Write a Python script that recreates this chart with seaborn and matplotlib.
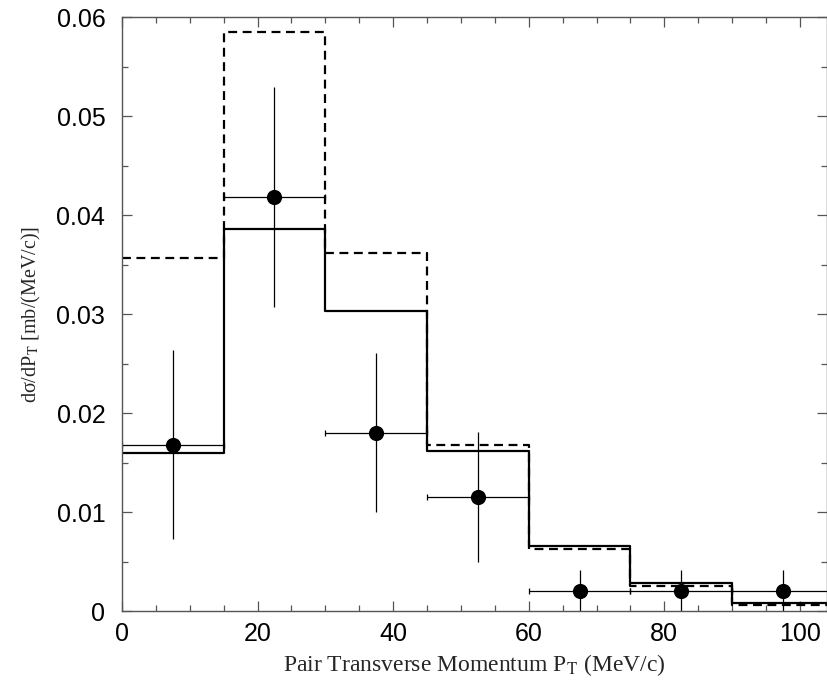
import numpy as np
import pandas as pd
import matplotlib
matplotlib.use("Agg")
import matplotlib.pyplot as plt
import seaborn as sns
from matplotlib.ticker import MultipleLocator

bin_edges = [0, 15, 30, 45, 60, 75, 90, 105]
bin_centers = [7.5, 22.5, 37.5, 52.5, 67.5, 82.5, 97.5]
solid_model = [0.0160, 0.0386, 0.0303, 0.0162, 0.0066, 0.0028, 0.0008]
dashed_model = [0.0357, 0.0585, 0.0362, 0.0168, 0.0063, 0.0025, 0.0006]
data_y = [0.0168, 0.0418, 0.0180, 0.0115, 0.0020, 0.0020, 0.0020]
data_err_up = [0.0096, 0.0111, 0.0081, 0.0066, 0.0021, 0.0021, 0.0021]
data_err_dn = [0.0095, 0.0111, 0.0080, 0.0065, 0.0020, 0.0020, 0.0020]
x_half_width = [7.5] * 7

sns.set_style("ticks")
plt.rcParams['font.family'] = ['Liberation Sans', 'DejaVu Sans']
plt.rcParams['mathtext.fontset'] = 'stix'

fig = plt.figure(figsize=(8.28, 6.84), dpi=100)
ax = fig.add_axes([0.1473, 0.1067, 0.8515, 0.8683])

df = pd.DataFrame({"pt": bin_centers, "solid": solid_model, "dashed": dashed_model,
                   "y": data_y})

sns.histplot(data=df, x="pt", weights="dashed", bins=bin_edges, element="step",
             fill=False, color="black", linewidth=1.6, linestyle=(0, (4, 2.5)), ax=ax)
sns.histplot(data=df, x="pt", weights="solid", bins=bin_edges, element="step",
             fill=False, color="black", linewidth=1.6, ax=ax)

ax.errorbar(bin_centers, data_y, xerr=x_half_width, fmt="none", ecolor="black",
            elinewidth=0.9, capsize=2.5, capthick=0.9)
ax.errorbar(bin_centers, data_y, yerr=[data_err_dn, data_err_up], fmt="none",
            ecolor="black", elinewidth=0.9, capsize=0)
sns.scatterplot(data=df, x="pt", y="y", color="black", s=120, edgecolor="black",
                linewidth=0, zorder=5, ax=ax)

ax.set_xlim(0, 104)
ax.set_ylim(0, 0.06)
ax.xaxis.set_major_locator(MultipleLocator(20))
ax.xaxis.set_minor_locator(MultipleLocator(5))
ax.yaxis.set_major_locator(MultipleLocator(0.01))
ax.yaxis.set_minor_locator(MultipleLocator(0.005))
ax.set_yticks([0, 0.01, 0.02, 0.03, 0.04, 0.05, 0.06])
ax.set_yticklabels(["0", "0.01", "0.02", "0.03", "0.04", "0.05", "0.06"])

ax.tick_params(which="both", direction="in", top=True, right=True, colors="#555555",
               labelcolor="black", labelsize=18)
ax.tick_params(which="major", length=7, width=0.9)
ax.tick_params(which="minor", length=4, width=0.9)
ax.tick_params(axis="x", pad=8)
ax.tick_params(axis="y", pad=12)
for s in ax.spines.values():
    s.set_visible(True)
    s.set_color("#555555")
    s.set_linewidth(1.0)

ax.set_xlabel(r"Pair Transverse Momentum P$_{\mathrm{T}}$ (MeV/c)",
              family="Liberation Serif", fontsize=17, labelpad=4)
ax.set_ylabel(r"dσ/dP$_{\mathrm{T}}$ [mb/(MeV/c)]",
              family="Liberation Serif", fontsize=14.5, labelpad=10)

fig.savefig("out.png", dpi=100)
